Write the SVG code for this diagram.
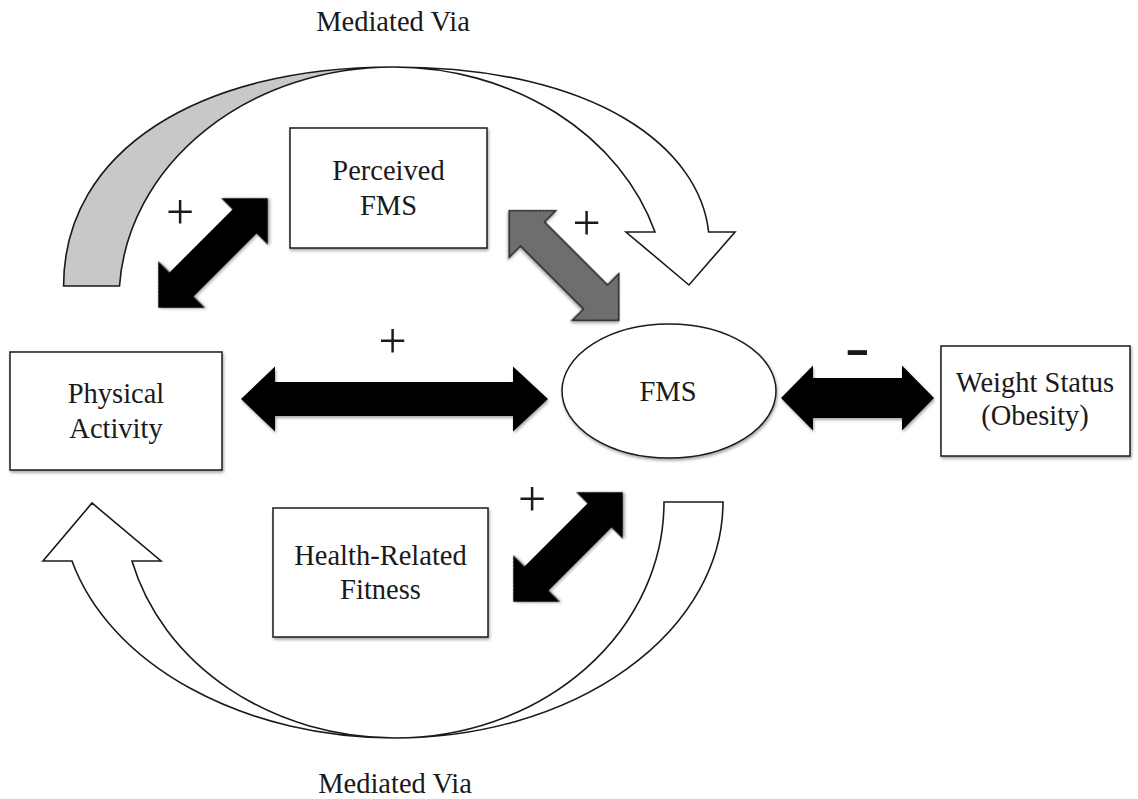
<svg xmlns="http://www.w3.org/2000/svg" width="1138" height="799" viewBox="0 0 1138 799">
<defs>
<filter id="sh" x="-10%" y="-10%" width="125%" height="125%">
<feDropShadow dx="1" dy="2" stdDeviation="1.5" flood-color="#000" flood-opacity="0.35"/>
</filter>
<polygon id="darrDiag" points="-77.5,0 -44.5,-33 -44.5,-17 44.5,-17 44.5,-33 77.5,0 44.5,33 44.5,17 -44.5,17 -44.5,33"/>
</defs>
<style>
.box{fill:#fff;stroke:#1a1a1a;stroke-width:1.5;filter:url(#sh)}
.lbl{font-family:"Liberation Serif","Times New Roman",serif;font-size:28.5px;fill:#1a1a1a;text-anchor:middle}
.plus{font-family:"Liberation Serif","Times New Roman",serif;font-size:50px;fill:#1a1a1a;text-anchor:middle}
.blk{fill:#000;filter:url(#sh)}
.gry{fill:#6e6e6e;stroke:#222;stroke-width:1.5;filter:url(#sh)}
.band{stroke:#1a1a1a;stroke-width:1.6;stroke-linejoin:miter}
</style>
<rect width="1138" height="799" fill="#fff"/>

<g id="connectors">
  <!-- top mediated arc -->
  <path class="band" fill="#c8c8c8" d="M 63.6,286 C 63.6,150 200,67 393,67 A 274,233 0 0 0 119.5,286 Z"/>
  <path class="band" fill="#fff" d="M 393,67 C 600,67 700,150 708.6,232 L 735,232 L 689,285 L 626,232 L 655,232 A 274,233 0 0 0 393,67 Z"/>
  <!-- bottom mediated arc -->
  <path class="band" fill="#fff" d="M 723,502 A 328,236 0 0 1 395,738 A 333.6,236 0 0 1 72,561 L 43,561 L 92,503 L 161,561 L 132,561 A 271.7,236 0 0 0 395,738 A 269,236 0 0 0 664,502 Z"/>
  <!-- double arrows -->
  <use href="#darrDiag" class="blk" transform="translate(213,253) rotate(-45)"/>
  <use href="#darrDiag" class="gry" transform="translate(564,265.5) rotate(45)"/>
  <use href="#darrDiag" class="blk" transform="translate(568,547) rotate(-45)"/>
  <polygon class="blk" points="241,399 275,366.5 275,382 513,382 513,366.5 548,399 513,431.5 513,416 275,416 275,431.5"/>
  <polygon class="blk" points="781,398 813,365.5 813,378 902,378 902,365.5 934,398 902,430.5 902,418 813,418 813,430.5"/>
  <!-- signs -->
  <text class="plus" x="180" y="229">+</text>
  <text class="plus" x="586.5" y="239.5">+</text>
  <text class="plus" x="392.5" y="357.5">+</text>
  <text class="plus" x="532" y="516">+</text>
  <text transform="translate(857.5,363) scale(1.9,1)" style="font-family:'Liberation Sans',Arial,sans-serif;font-weight:bold;font-size:40px;fill:#1a1a1a;text-anchor:middle">-</text>
  <text class="lbl" x="393" y="31">Mediated Via</text>
  <text class="lbl" x="395" y="793">Mediated Via</text>
</g>

<g id="perceived-fms">
  <rect class="box" x="290" y="128" width="197" height="120"/>
  <text class="lbl" x="388.5" y="180">Perceived</text>
  <text class="lbl" x="388.5" y="215">FMS</text>
</g>
<g id="physical-activity">
  <rect class="box" x="10" y="352" width="212" height="118"/>
  <text class="lbl" x="116" y="403">Physical</text>
  <text class="lbl" x="116" y="438">Activity</text>
</g>
<g id="fms">
  <ellipse class="box" cx="669" cy="391" rx="107" ry="67"/>
  <text class="lbl" x="668" y="401">FMS</text>
</g>
<g id="weight-status">
  <rect class="box" x="941" y="346" width="189" height="110"/>
  <text class="lbl" x="1035" y="392">Weight Status</text>
  <text class="lbl" x="1035" y="425">(Obesity)</text>
</g>
<g id="health-related-fitness">
  <rect class="box" x="273" y="508" width="215" height="129"/>
  <text class="lbl" x="380.5" y="565">Health-Related</text>
  <text class="lbl" x="380.5" y="599">Fitness</text>
</g>
</svg>
